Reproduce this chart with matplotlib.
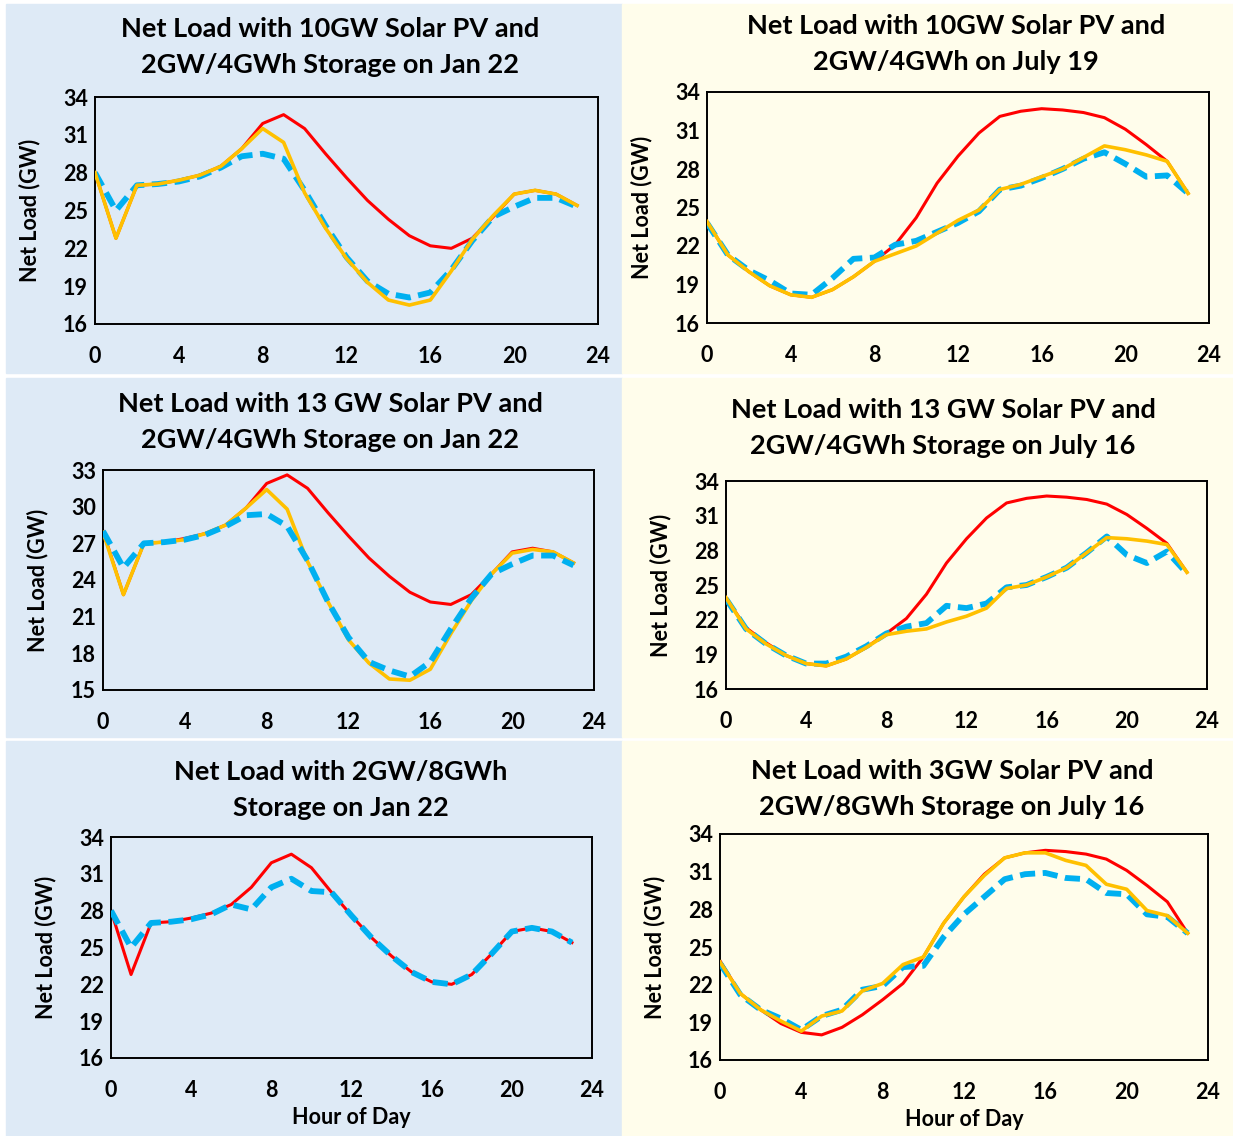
import matplotlib.pyplot as plt
from matplotlib.patches import Rectangle

plt.rcParams['font.family'] = ['Lato', 'DejaVu Sans']

hours = list(range(24))

# January 22 net load (no storage dispatch)
jan_base = [28.0, 22.8, 27.0, 27.1, 27.4, 27.8, 28.5, 29.9, 31.9, 32.6, 31.5, 29.5,
            27.6, 25.8, 24.3, 23.0, 22.2, 22.0, 22.8, 24.5, 26.3, 26.6, 26.3, 25.4]
# July net load (no storage dispatch)
jul_base = [23.9, 21.3, 20.0, 18.9, 18.2, 18.0, 18.6, 19.6, 20.8, 22.1, 24.2, 26.9,
            29.0, 30.8, 32.1, 32.5, 32.7, 32.6, 32.4, 32.0, 31.1, 29.9, 28.6, 26.1]

jan10_solar = [28.0, 22.8, 27.0, 27.1, 27.4, 27.8, 28.5, 29.9, 31.5, 30.4, 26.4, 23.6,
               21.2, 19.3, 17.9, 17.5, 17.9, 20.2, 22.7, 24.6, 26.3, 26.6, 26.3, 25.4]
jan10_storage = [28.0, 25.0, 27.0, 27.1, 27.3, 27.7, 28.4, 29.3, 29.5, 29.1, 26.6, 23.8,
                 21.3, 19.4, 18.4, 18.1, 18.5, 20.3, 22.6, 24.5, 25.3, 26.0, 26.0, 25.3]

jan13_solar = [27.9, 22.8, 27.0, 27.1, 27.3, 27.8, 28.5, 29.9, 31.4, 29.8, 25.5, 22.2,
               19.1, 17.2, 15.9, 15.8, 16.7, 19.6, 22.3, 24.5, 26.2, 26.5, 26.3, 25.4]
jan13_storage = [28.0, 25.0, 27.0, 27.1, 27.3, 27.7, 28.4, 29.3, 29.4, 28.4, 25.6, 22.2,
                 19.3, 17.3, 16.6, 16.1, 17.3, 20.0, 22.5, 24.5, 25.3, 26.0, 26.0, 25.2]

jan8h_storage = [28.0, 25.0, 27.0, 27.1, 27.3, 27.7, 28.5, 28.1, 29.9, 30.6, 29.6, 29.5,
                 27.6, 25.8, 24.3, 23.0, 22.2, 22.0, 22.8, 24.5, 26.3, 26.6, 26.3, 25.4]

jul10_solar = [23.9, 21.3, 20.0, 18.9, 18.2, 18.0, 18.6, 19.6, 20.8, 21.4, 22.0, 23.0,
               24.0, 24.8, 26.4, 26.8, 27.4, 28.0, 28.9, 29.8, 29.5, 29.1, 28.6, 26.1]
jul10_storage = [23.8, 21.3, 20.1, 19.3, 18.3, 18.2, 19.5, 21.0, 21.1, 22.1, 22.4, 23.1,
                 23.8, 24.7, 26.4, 26.7, 27.3, 28.0, 28.8, 29.3, 28.4, 27.4, 27.5, 26.1]

jul13_solar = [23.9, 21.2, 19.9, 18.9, 18.2, 18.0, 18.6, 19.6, 20.7, 21.0, 21.2, 21.8,
               22.3, 23.0, 24.7, 25.0, 25.7, 26.5, 27.8, 29.1, 29.0, 28.8, 28.5, 26.1]
jul13_storage = [23.8, 21.2, 19.9, 18.9, 18.2, 18.2, 18.8, 19.7, 20.8, 21.4, 21.7, 23.2,
                 23.0, 23.4, 24.8, 25.0, 25.7, 26.5, 27.8, 29.2, 27.6, 26.9, 27.9, 26.0]

jul3_solar = [23.8, 21.3, 20.0, 19.1, 18.3, 19.5, 19.9, 21.5, 22.1, 23.6, 24.2, 26.9,
              29.0, 30.7, 32.1, 32.5, 32.5, 31.9, 31.5, 30.0, 29.6, 27.9, 27.5, 26.1]
jul3_storage = [23.7, 21.2, 20.0, 19.3, 18.4, 19.5, 20.0, 21.6, 21.9, 23.4, 23.5, 25.8,
                27.6, 29.0, 30.4, 30.8, 30.9, 30.5, 30.4, 29.3, 29.2, 27.6, 27.4, 26.1]

titles = ["Net Load with 10GW Solar PV and\n2GW/4GWh Storage on Jan 22",
          "Net Load with 10GW Solar PV and\n2GW/4GWh on July 19",
          "Net Load with 13 GW Solar PV and\n2GW/4GWh Storage on Jan 22",
          "Net Load with 13 GW Solar PV and\n2GW/4GWh Storage on July 16",
          "Net Load with 2GW/8GWh\nStorage on Jan 22",
          "Net Load with 3GW Solar PV and\n2GW/8GWh Storage on July 16"]

W, H = 1233, 1136
fig = plt.figure(figsize=(W / 100, H / 100), dpi=100)

BLUE_BG = '#DEEAF6'
YELLOW_BG = '#FFFDEB'

# column backgrounds, separated by thin white bands between rows
rows = [(4, 373), (378, 737), (741, 1136)]
for top, bot in rows:
    fig.patches.append(Rectangle((6 / W, 1 - bot / H), (622 - 6) / W, (bot - top) / H,
                                 transform=fig.transFigure, color=BLUE_BG, zorder=-10))
    fig.patches.append(Rectangle((622 / W, 1 - bot / H), (W - 622) / W, (bot - top) / H,
                                 transform=fig.transFigure, color=YELLOW_BG, zorder=-10))

# axes boxes in pixels: left, top, right, bottom ; title center x, title top y
panels = [
    dict(box=(95, 97, 598, 324), tx=330, ty=17, yl=(16, 34), yt=range(16, 35, 3),
         base=jan_base, solar=jan10_solar, store=jan10_storage, blue_top=False),
    dict(box=(707, 92, 1209, 323), tx=956, ty=14, yl=(16, 34), yt=range(16, 35, 3),
         base=jul_base, solar=jul10_solar, store=jul10_storage, blue_top=False),
    dict(box=(103, 470, 594, 690), tx=330, ty=392, yl=(15, 33), yt=range(15, 34, 3),
         base=jan_base, solar=jan13_solar, store=jan13_storage, blue_top=True),
    dict(box=(726, 481, 1207, 689), tx=943, ty=398, yl=(16, 34), yt=range(16, 35, 3),
         base=jul_base, solar=jul13_solar, store=jul13_storage, blue_top=False),
    dict(box=(111, 837, 592, 1058), tx=341, ty=760, yl=(16, 34), yt=range(16, 35, 3),
         base=jan_base, solar=None, store=jan8h_storage, blue_top=True),
    dict(box=(720, 834, 1208, 1060), tx=952, ty=759, yl=(16, 34), yt=range(16, 35, 3),
         base=jul_base, solar=jul3_solar, store=jul3_storage, blue_top=False),
]

for i, p in enumerate(panels):
    l, t, r, b = p['box']
    ax = fig.add_axes([l / W, 1 - b / H, (r - l) / W, (b - t) / H])
    ax.patch.set_alpha(0)
    ax.plot(hours, p['base'], color='#FF0000', lw=2.2, zorder=2)
    z_solar, z_store = (3, 4) if p['blue_top'] else (4, 3)
    if p['solar'] is not None:
        ax.plot(hours, p['solar'], color='#FFC000', lw=2.6, zorder=z_solar)
    ax.plot(hours, p['store'], color='#00B0F0', lw=4.2, ls=(0, (2.6, 1.3)),
            zorder=z_store)
    ax.set_xlim(0, 24)
    ax.set_ylim(*p['yl'])
    ax.set_xticks(range(0, 25, 4))
    ax.set_yticks(list(p['yt']))
    ax.tick_params(length=0, labelsize=15.5, pad=5)
    ax.tick_params(axis='x', pad=16)
    for lbl in ax.get_xticklabels() + ax.get_yticklabels():
        lbl.set_fontweight('bold')
    for s in ax.spines.values():
        s.set_linewidth(1.4)
    ax.set_ylabel("Net Load (GW)", fontsize=15.5, fontweight='bold', labelpad=16)
    if i >= 4:
        ax.set_xlabel("Hour of Day", fontsize=15.5, fontweight='bold', labelpad=4)
    fig.text(p['tx'] / W, 1 - p['ty'] / H, titles[i],
             ha='center', va='top', fontsize=19.5, fontweight='bold',
             linespacing=1.6)

fig.savefig("out.png", dpi=100)
